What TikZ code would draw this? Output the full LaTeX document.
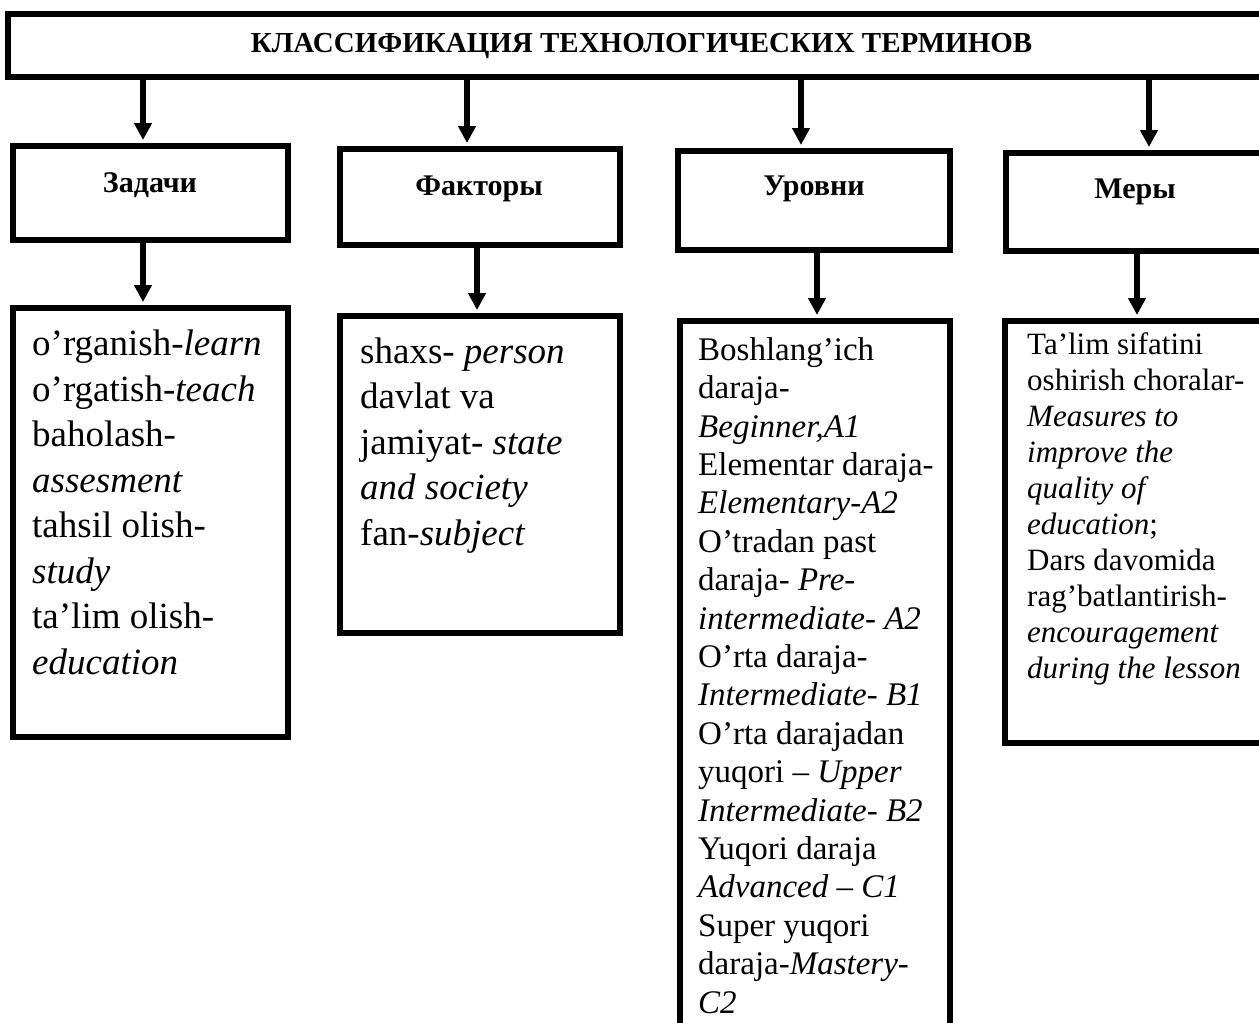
\documentclass[tikz,border=0pt]{standalone}
\usepackage{fontspec}
\setmainfont{Liberation Serif}
\usetikzlibrary{arrows.meta,calc}
\begin{document}
\begin{tikzpicture}[x=1pt,y=-1pt,
  box/.style={draw,line width=6pt,inner sep=0pt,rectangle},
  arr/.style={line width=5.5pt,-{Triangle[length=17pt,width=17pt]},shorten >=3pt},
  lbl/.style={font=\fontsize{30}{34}\selectfont\bfseries,inner sep=0pt,anchor=base},
  txt/.style={anchor=base west,inner sep=0pt,align=left}]
\useasboundingbox (0,0) rectangle (1259,1023);
\fill[white] (0,0) rectangle (1259,1023);
\clip (0,0) rectangle (1259,1023);
% top box
\node[box,minimum width=1267pt,minimum height=63pt,font=\fontsize{29}{34}\selectfont\bfseries] (top) at (641.5,45.5) {КЛАССИФИКАЦИЯ ТЕХНОЛОГИЧЕСКИХ ТЕРМИНОВ};
% second row
\node[box,minimum width=275pt,minimum height=94pt] (zad) at (150.5,193) {};
\node[box,minimum width=280pt,minimum height=96pt] (fak) at (480,197) {};
\node[box,minimum width=272pt,minimum height=99pt] (urv) at (814,200.5) {};
\node[box,minimum width=269pt,minimum height=98pt] (mer) at (1140.5,202) {};
\node[lbl] (zadl) at (150,192) {Задачи};
\node[lbl] (fakl) at (479,195) {Факторы};
\node[lbl] (urvl) at (814,195) {Уровни};
\node[lbl] (merl) at (1135,198) {Меры};
% third row
\node[box,minimum width=275pt,minimum height=429pt] (ba) at (150.5,522.5) {};
\node[box,minimum width=280pt,minimum height=317pt] (bb) at (480,474.5) {};
\node[box,minimum width=270pt,minimum height=714pt] (bc) at (815,678) {};
\node[box,minimum width=270pt,minimum height=422pt] (bd) at (1140,532) {};
% arrows from top
\draw[arr] ([xshift=-7.5pt]zad.north |- top.south) -- ([xshift=-7.5pt]zad.north);
\draw[arr] ([xshift=-13pt]fak.north |- top.south) -- ([xshift=-13pt]fak.north);
\draw[arr] ([xshift=-13pt]urv.north |- top.south) -- ([xshift=-13pt]urv.north);
\draw[arr] ([xshift=8.5pt]mer.north |- top.south) -- ([xshift=8.5pt]mer.north);
% arrows down
\draw[arr] ([xshift=-7.5pt]zad.south) -- ([xshift=-7.5pt]zad.south |- ba.north);
\draw[arr] ([xshift=-3pt]fak.south) -- ([xshift=-3pt]fak.south |- bb.north);
\draw[arr] ([xshift=3pt]urv.south) -- ([xshift=3pt]urv.south |- bc.north);
\draw[arr] ([xshift=-3.5pt]mer.south) -- ([xshift=-3.5pt]mer.south |- bd.north);
% texts (anchor = baseline of the last line)
\node[txt,font=\fontsize{37}{45.5}\selectfont] (ta) at (32,674) {%
o’rganish-\textit{learn}\\
o’rgatish-\textit{teach}\\
baholash-\\
\textit{assesment}\\
tahsil olish-\\
\textit{study}\\
ta’lim olish-\\
\textit{education}};
\node[txt,font=\fontsize{37}{45.5}\selectfont] (tb) at (360,545) {%
shaxs- \textit{person}\\
davlat va\\
jamiyat- \textit{state}\\
\textit{and society}\\
fan-\textit{subject}};
\node[txt,font=\fontsize{33}{38.4}\selectfont] (tc) at (698,1013) {%
Boshlang’ich\\
daraja-\\
\textit{Beginner,A1}\\
Elementar daraja-\\
\textit{Elementary-A2}\\
O’tradan past\\
daraja- \textit{Pre-}\\
\textit{intermediate- A2}\\
O’rta daraja-\\
\textit{Intermediate- B1}\\
O’rta darajadan\\
yuqori – \textit{Upper}\\
\textit{Intermediate- B2}\\
Yuqori daraja\\
\textit{Advanced – C1}\\
Super yuqori\\
daraja-\textit{Mastery-}\\
\textit{C2}};
\node[txt,font=\fontsize{31}{36}\selectfont] (td) at (1027,678) {%
Ta’lim sifatini\\
oshirish choralar-\\
\textit{Measures to}\\
\textit{improve the}\\
\textit{quality of}\\
\textit{education};\\
Dars davomida\\
rag’batlantirish-\\
\textit{encouragement}\\
\textit{during the lesson}};
\end{tikzpicture}
\end{document}
